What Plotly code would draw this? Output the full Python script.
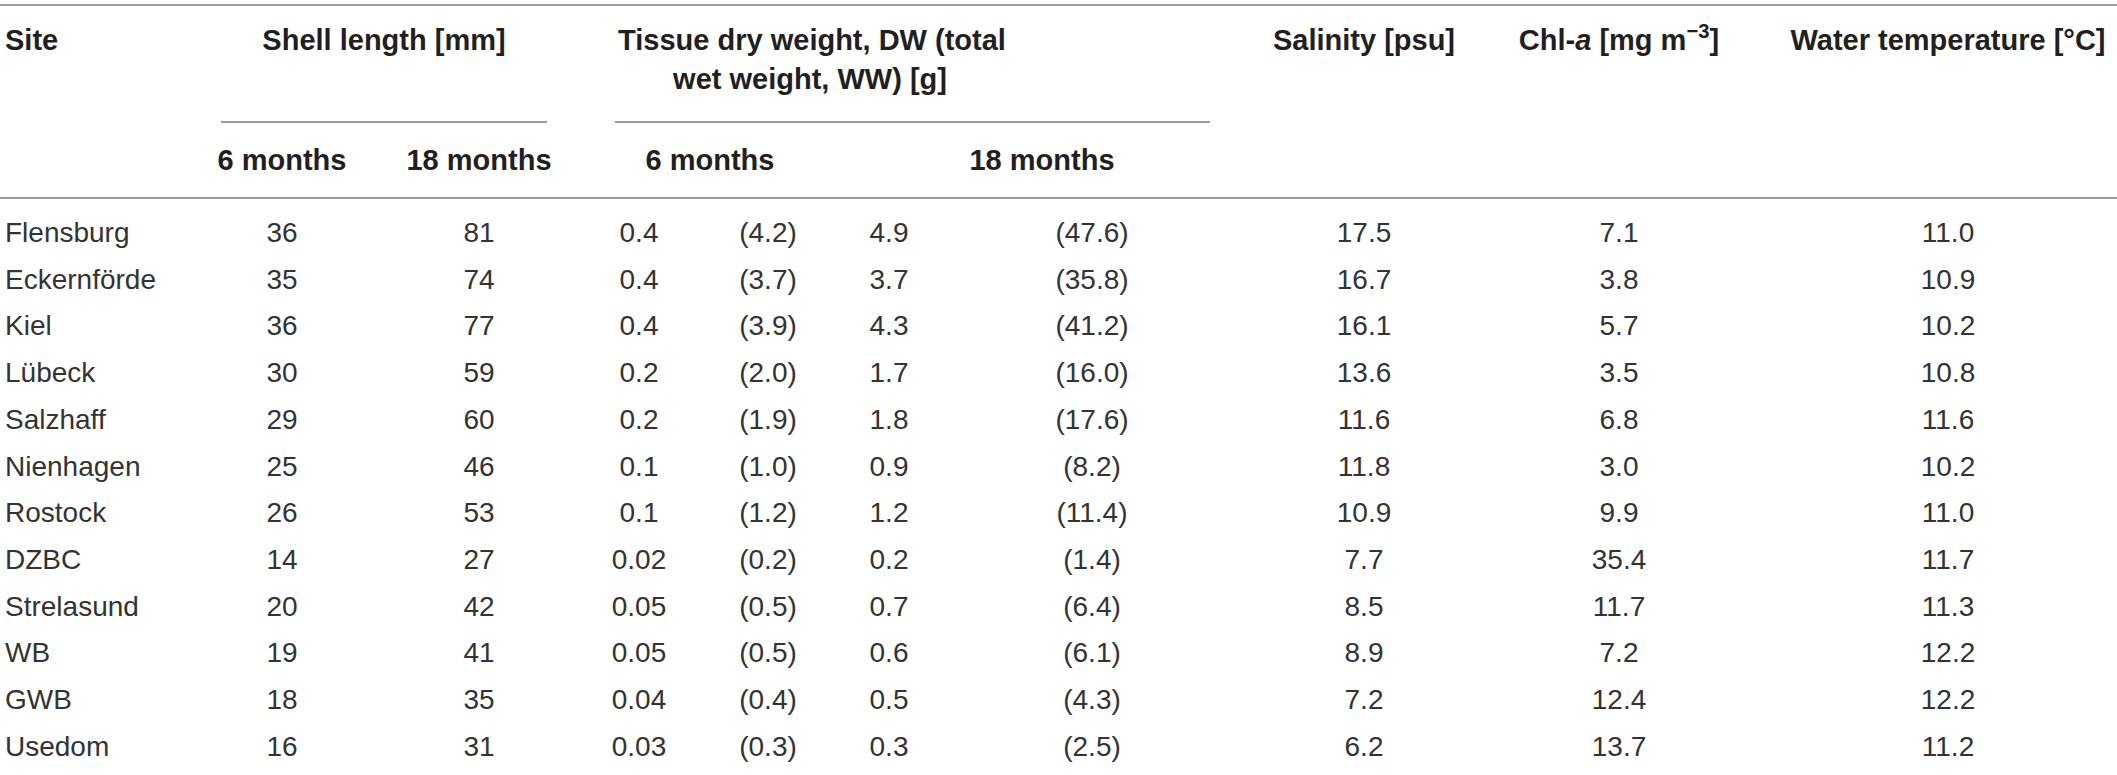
import plotly.graph_objects as go

# ---------------- data ----------------
sites = ["Flensburg", "Eckernförde", "Kiel", "Lübeck", "Salzhaff", "Nienhagen",
         "Rostock", "DZBC", "Strelasund", "WB", "GWB", "Usedom"]
shell_6 = [36, 35, 36, 30, 29, 25, 26, 14, 20, 19, 18, 16]
shell_18 = [81, 74, 77, 59, 60, 46, 53, 27, 42, 41, 35, 31]
dw_6 = [0.4, 0.4, 0.4, 0.2, 0.2, 0.1, 0.1, 0.02, 0.05, 0.05, 0.04, 0.03]
ww_6 = [4.2, 3.7, 3.9, 2.0, 1.9, 1.0, 1.2, 0.2, 0.5, 0.5, 0.4, 0.3]
dw_18 = [4.9, 3.7, 4.3, 1.7, 1.8, 0.9, 1.2, 0.2, 0.7, 0.6, 0.5, 0.3]
ww_18 = [47.6, 35.8, 41.2, 16.0, 17.6, 8.2, 11.4, 1.4, 6.4, 6.1, 4.3, 2.5]
salinity = [17.5, 16.7, 16.1, 13.6, 11.6, 11.8, 10.9, 7.7, 8.5, 8.9, 7.2, 6.2]
chl_a = [7.1, 3.8, 5.7, 3.5, 6.8, 3.0, 9.9, 35.4, 11.7, 7.2, 12.4, 13.7]
water_temp = [11.0, 10.9, 10.2, 10.8, 11.6, 10.2, 11.0, 11.7, 11.3, 12.2, 12.2, 11.2]

header_top = ["Site", "Shell length [mm]", "Salinity [psu]",
              "Chl-<i>a</i> [mg m<sup>−3</sup>]", "Water temperature [°C]"]
tissue_header = ["Tissue dry weight, DW (total", "wet weight, WW) [g]"]
sub_headers = ["6 months", "18 months", "6 months", "18 months"]

# ---------------- layout constants (pixels) ----------------
W, H = 2117, 775
ROW0, ROWH = 235, 46.7
FONT = "Liberation Sans, Arial, Helvetica, sans-serif"
TXT = "#231f20"
TXT_DATA = "#333333"
LINE = "#9b9b9b"
FS = 28
FSH = 29

rows_y = [ROW0 + i * ROWH for i in range(len(sites))]

fig = go.Figure()


def col(x, texts, pos="middle center", bold=False, y=None):
    ys = rows_y if y is None else y
    fig.add_trace(go.Scatter(
        x=[x] * len(texts), y=ys, text=texts, mode="text",
        textposition=pos, cliponaxis=False, hoverinfo="skip",
        textfont=dict(family=FONT, size=FSH if bold else FS,
                      color=TXT if bold else TXT_DATA,
                      weight="bold" if bold else "normal"),
    ))


# data columns
col(5, sites, pos="middle right")
col(282, [str(v) for v in shell_6])
col(479, [str(v) for v in shell_18])
col(639, [str(v) for v in dw_6])
col(768, [f"({v:.1f})" for v in ww_6])
col(889, [str(v) for v in dw_18])
col(1092, [f"({v:.1f})" for v in ww_18])
col(1364, [f"{v:.1f}" for v in salinity])
col(1619, [f"{v:.1f}" for v in chl_a])
col(1948, [f"{v:.1f}" for v in water_temp])

# headers
HY1, HY2, SUBY = 43, 82, 163
col(5, [header_top[0]], pos="middle right", bold=True, y=[HY1])
col(384, [header_top[1]], bold=True, y=[HY1])
col(1364, [header_top[2]], bold=True, y=[HY1])
col(1619, [header_top[3]], bold=True, y=[HY1])
col(1948, [header_top[4]], bold=True, y=[HY1])
col(812, [tissue_header[0]], bold=True, y=[HY1])
col(810, [tissue_header[1]], bold=True, y=[HY2])
col(282, [sub_headers[0]], bold=True, y=[SUBY])
col(479, [sub_headers[1]], bold=True, y=[SUBY])
col(710, [sub_headers[2]], bold=True, y=[SUBY])
col(1042, [sub_headers[3]], bold=True, y=[SUBY])

# rules
for x0, x1, y in [(0, W, 5), (221, 547, 122), (615, 1210, 122), (0, W, 198)]:
    fig.add_shape(type="line", xref="x", yref="y", x0=x0, x1=x1, y0=y, y1=y,
                  line=dict(color=LINE, width=2))

fig.update_layout(
    width=W, height=H, margin=dict(l=0, r=0, t=0, b=0),
    paper_bgcolor="white", plot_bgcolor="white", showlegend=False,
    xaxis=dict(range=[0, W], visible=False, fixedrange=True),
    yaxis=dict(range=[H, 0], visible=False, fixedrange=True),
)

fig.write_html("out.html", config={"displayModeBar": False},
               post_script="document.body.style.margin='0';"
                           "document.body.style.overflow='hidden';")
